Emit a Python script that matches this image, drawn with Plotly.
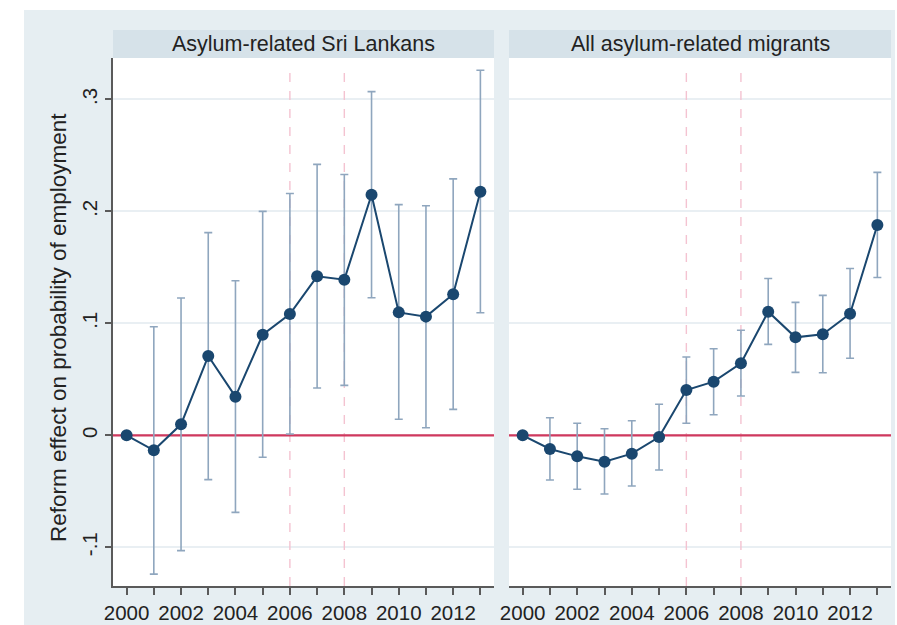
import plotly.graph_objects as go

W, H = 897, 625

years = list(range(2000, 2014))

# Panel 1: Asylum-related Sri Lankans
sl_est = [0.0, -0.0134, 0.0098, 0.0708, 0.0345, 0.0898, 0.1083, 0.142, 0.139, 0.2148, 0.1098, 0.106, 0.126, 0.2175]
sl_hi = [None, 0.097, 0.1226, 0.181, 0.138, 0.200, 0.216, 0.242, 0.233, 0.307, 0.206, 0.205, 0.229, 0.326]
sl_lo = [None, -0.124, -0.103, -0.0396, -0.0688, -0.0196, 0.0012, 0.0422, 0.0446, 0.1229, 0.0143, 0.0068, 0.0232, 0.1095]

# Panel 2: All asylum-related migrants
all_est = [0.0, -0.0122, -0.0188, -0.0236, -0.0164, -0.0015, 0.0404, 0.0479, 0.0643, 0.1104, 0.0875, 0.0902, 0.1086, 0.1878]
all_hi = [None, 0.0157, 0.0107, 0.0059, 0.013, 0.0277, 0.0699, 0.0773, 0.0938, 0.140, 0.1187, 0.125, 0.149, 0.2348]
all_lo = [None, -0.0399, -0.0482, -0.0524, -0.0453, -0.031, 0.0107, 0.0184, 0.0351, 0.0812, 0.0562, 0.0559, 0.0688, 0.141]

panel_titles = ["Asylum-related Sri Lankans", "All asylum-related migrants"]
y_ticks = [-0.1, 0.0, 0.1, 0.2, 0.3]
y_tick_labels = ["-.1", "0", ".1", ".2", ".3"]
x_tick_labels = [str(y) if y % 2 == 0 else "" for y in years]
ref_years = [2006, 2008]
ref_level = 0.0
y_title = "Reform effect on probability of employment"

NAVY = "#1a476f"
CI = "#8fa6be"
RED = "#d0395e"
PINK = "#f4c3d1"
GRID = "#e9eff3"
AXIS = "#5a5a5a"
BG = "#e6eef2"
STRIP = "#d6e2e9"
FONT = "Liberation Sans, Arial, sans-serif"

fig = go.Figure()

def px_x(p):
    return p / W

def px_y(p):
    return 1 - p / H

x_dom1 = [px_x(113), px_x(494)]
x_dom2 = [px_x(509), px_x(891)]
y_dom = [px_y(586), px_y(58)]
y_range = [-0.1346, 0.337]
x_range = [1999.5, 2013.5]

panels = [
    ("x", "y", sl_est, sl_hi, sl_lo),
    ("x2", "y2", all_est, all_hi, all_lo),
]

for xa, ya, est, hi, lo in panels:
    for ry in ref_years:
        fig.add_trace(go.Scatter(
            x=[ry, ry], y=[y_range[0], y_range[1] - 0.006], mode="lines", xaxis=xa, yaxis=ya,
            line=dict(color=PINK, width=1.4, dash="dash"), showlegend=False, hoverinfo="skip"))
    fig.add_trace(go.Scatter(
        x=x_range, y=[ref_level, ref_level], mode="lines", xaxis=xa, yaxis=ya,
        line=dict(color=RED, width=2.2), showlegend=False, hoverinfo="skip"))
    ex, ey, eplus, eminus = [], [], [], []
    for yr, e, h, l in zip(years, est, hi, lo):
        if h is None:
            continue
        ex.append(yr)
        ey.append(e)
        eplus.append(h - e)
        eminus.append(e - l)
    fig.add_trace(go.Scatter(
        x=ex, y=ey, mode="markers", xaxis=xa, yaxis=ya,
        marker=dict(size=1, opacity=0),
        error_y=dict(type="data", array=eplus, arrayminus=eminus, symmetric=False,
                     color=CI, thickness=1.6, width=4),
        showlegend=False, hoverinfo="skip"))
    fig.add_trace(go.Scatter(
        x=years, y=est, mode="lines+markers", xaxis=xa, yaxis=ya,
        line=dict(color=NAVY, width=2),
        marker=dict(color=NAVY, size=12),
        showlegend=False))

xcommon = dict(range=x_range, tickmode="array", tickvals=years, ticktext=x_tick_labels,
               ticks="outside", ticklen=7, tickwidth=1.5, tickcolor=AXIS,
               showline=True, linecolor=AXIS, linewidth=2, showgrid=False, zeroline=False,
               automargin=False,
               tickfont=dict(family=FONT, size=20.5, color="#222"))

fig.update_layout(
    width=W, height=H,
    margin=dict(l=0, r=0, t=0, b=0, pad=0),
    paper_bgcolor="white", plot_bgcolor="rgba(0,0,0,0)",
    xaxis=dict(domain=x_dom1, anchor="y", **xcommon),
    xaxis2=dict(domain=x_dom2, anchor="y2", **xcommon),
    yaxis=dict(domain=y_dom, range=y_range, anchor="x", tickmode="array", tickvals=y_ticks,
               ticktext=y_tick_labels, ticks="outside", ticklen=6, tickwidth=1.5, tickcolor=AXIS,
               tickangle=-90, showline=True, linecolor=AXIS, linewidth=2, automargin=False,
               showgrid=True, gridcolor=GRID, gridwidth=1.5, zeroline=False,
               tickfont=dict(family=FONT, size=20.5, color="#222")),
    yaxis2=dict(domain=y_dom, range=y_range, anchor="x2", matches="y", tickmode="array",
                tickvals=y_ticks, showticklabels=False, ticks="", showline=False, automargin=False,
                showgrid=True, gridcolor=GRID, gridwidth=1.5, zeroline=False),
)

shapes = []
shapes.append(dict(type="rect", xref="paper", yref="paper", x0=px_x(24), x1=px_x(895),
                   y0=0, y1=px_y(10), fillcolor=BG, line=dict(width=0), layer="below"))
annotations = []
for dom, title in zip([x_dom1, x_dom2], panel_titles):
    shapes.append(dict(type="rect", xref="paper", yref="paper", x0=dom[0], x1=dom[1],
                       y0=y_dom[0], y1=y_dom[1], fillcolor="white", line=dict(width=0), layer="below"))
    shapes.append(dict(type="rect", xref="paper", yref="paper", x0=dom[0], x1=dom[1],
                       y0=px_y(58), y1=px_y(30), fillcolor=STRIP, line=dict(width=0), layer="below"))
    annotations.append(dict(text=title, xref="paper", yref="paper", x=(dom[0] + dom[1]) / 2,
                            y=px_y(44), showarrow=False, xanchor="center", yanchor="middle",
                            font=dict(family=FONT, size=21.5, color="#222")))

annotations.append(dict(text=y_title, xref="paper", yref="paper", x=px_x(58), y=px_y(328),
                        textangle=-90, showarrow=False, xanchor="center", yanchor="middle",
                        font=dict(family=FONT, size=22.5, color="#222")))

fig.update_layout(shapes=shapes, annotations=annotations)

fig.write_html("out.html")
